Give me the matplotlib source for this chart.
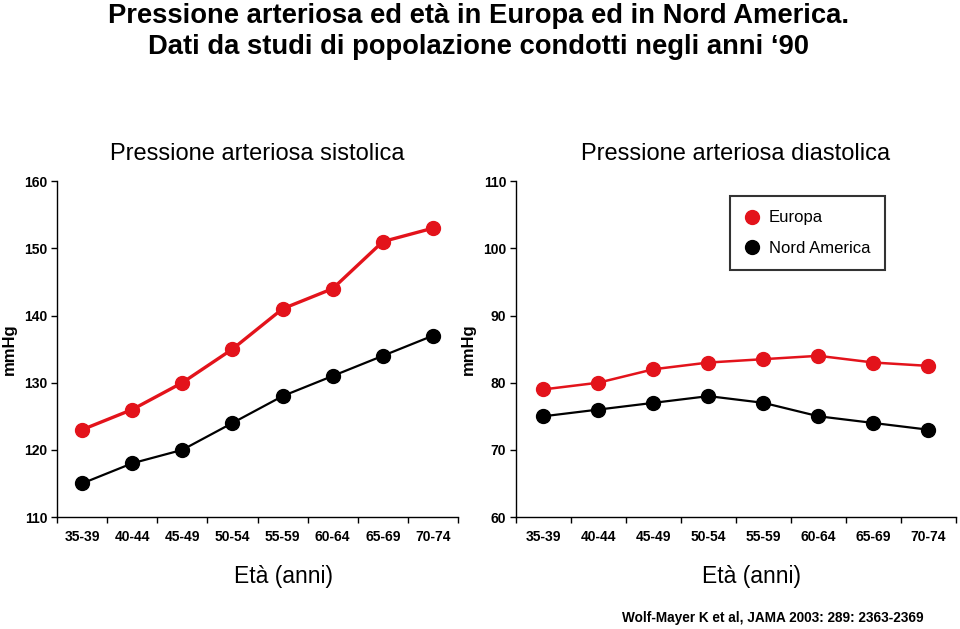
import matplotlib
matplotlib.use("Agg")
import matplotlib.pyplot as plt

# data
age_groups = ["35-39", "40-44", "45-49", "50-54", "55-59", "60-64", "65-69", "70-74"]
sys_europe = [123, 126, 130, 135, 141, 144, 151, 153]
sys_namerica = [115, 118, 120, 124, 128, 131, 134, 137]
dia_europe = [79, 80, 82, 83, 83.5, 84, 83, 82.5]
dia_namerica = [75, 76, 77, 78, 77, 75, 74, 73]

plt.rcParams['font.family'] = ['Liberation Sans', 'DejaVu Sans']

RED = "#e3131b"

fig = plt.figure(figsize=(9.6, 6.29), dpi=100)
ax1 = fig.add_axes([0.0594, 0.178, 0.4177, 0.534])
ax2 = fig.add_axes([0.5375, 0.178, 0.4583, 0.534])


def style_axis(ax, ylim, yticks, title):
    x = range(len(age_groups))
    ax.set_xlim(-0.5, len(age_groups) - 0.5)
    ax.set_ylim(*ylim)
    ax.set_yticks(yticks)
    ax.set_yticklabels([str(t) for t in yticks], fontweight='bold', fontsize=10)
    ax.set_xticks(list(x))
    ax.set_xticklabels(age_groups, fontweight='bold', fontsize=10)
    ax.set_xticks([i - 0.5 for i in range(len(age_groups) + 1)], minor=True)
    ax.tick_params(axis='x', which='major', length=0, pad=9)
    ax.tick_params(axis='x', which='minor', length=4, width=1, direction='out')
    ax.tick_params(axis='y', length=4, width=1, direction='out', pad=3)
    for s in ['top', 'right']:
        ax.spines[s].set_visible(False)
    for s in ['left', 'bottom']:
        ax.spines[s].set_linewidth(1)
    ax.set_ylabel("mmHg", fontweight='bold', fontsize=12, labelpad=5)
    ax.set_title(title, fontsize=17, pad=15)


x = list(range(len(age_groups)))
ax1.plot(x, sys_europe, color=RED, lw=2.4, marker='o', ms=10, clip_on=False, zorder=3)
ax1.plot(x, sys_namerica, color='black', lw=1.6, marker='o', ms=10, clip_on=False, zorder=3)
style_axis(ax1, (110, 160), [110, 120, 130, 140, 150, 160], "Pressione arteriosa sistolica")

ax2.plot(x, dia_europe, color=RED, lw=1.8, marker='o', ms=10, clip_on=False, zorder=3, label="Europa")
ax2.plot(x, dia_namerica, color='black', lw=1.6, marker='o', ms=10, clip_on=False, zorder=3, label="Nord America")
style_axis(ax2, (60, 110), [60, 70, 80, 90, 100, 110], "Pressione arteriosa diastolica")

leg = ax2.legend(loc='upper right', bbox_to_anchor=(0.838, 0.955), fancybox=False, frameon=True,
                 fontsize=12, handlelength=0.9, handletextpad=0.6, borderpad=0.85,
                 labelspacing=0.95, borderaxespad=0)
for h in leg.legend_handles:
    h.set_linestyle('')
leg.get_frame().set_edgecolor('black')
leg.get_frame().set_linewidth(1.5)

fig.text(0.295, 0.084, "Età (anni)", ha='center', va='center', fontsize=16.5)
fig.text(0.783, 0.084, "Età (anni)", ha='center', va='center', fontsize=16.5)

fig.text(0.498, 0.975, "Pressione arteriosa ed età in Europa ed in Nord America.",
         ha='center', va='center', fontsize=19.7, fontweight='bold')
fig.text(0.498, 0.926, "Dati da studi di popolazione condotti negli anni \u201890",
         ha='center', va='center', fontsize=19.7, fontweight='bold')
fig.text(0.805, 0.017, "Wolf-Mayer K et al, JAMA 2003: 289: 2363-2369",
         ha='center', va='center', fontsize=9.8, fontweight='bold')

fig.savefig("out.png", dpi=100)
